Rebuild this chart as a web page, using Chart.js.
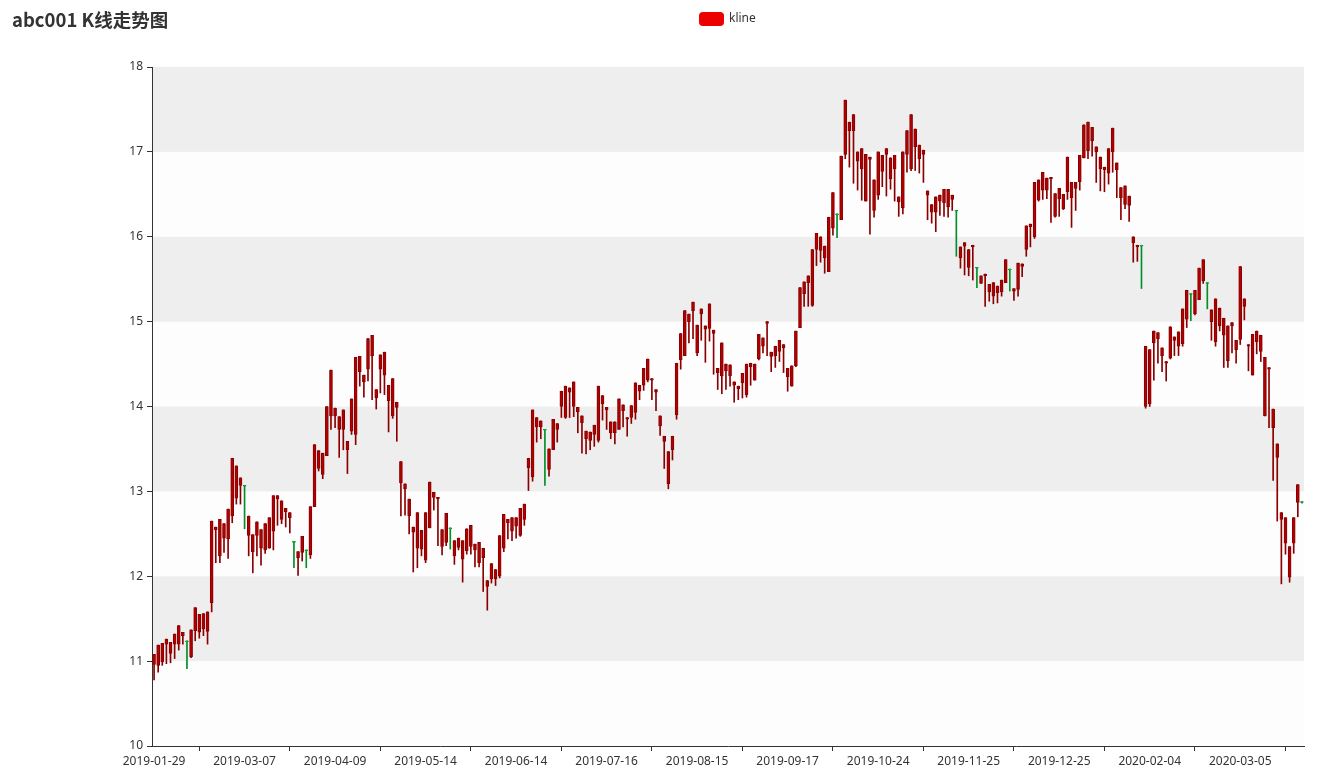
<!DOCTYPE html>
<html><head><meta charset="utf-8">
<script src="https://cdn.jsdelivr.net/npm/chart.js@4.4.1/dist/chart.umd.min.js"></script>
<style>html,body{margin:0;padding:0;background:#fff;}canvas{display:block;}</style>
</head><body>
<canvas id="c" width="1327" height="779"></canvas>
<script>
const titleText = 'abc001 K线走势图';
const seriesName = 'kline';
const dates = [
'2019-01-29','2019-01-30','2019-01-31',
'2019-02-01','2019-02-11','2019-02-12','2019-02-13','2019-02-14','2019-02-15','2019-02-18','2019-02-19','2019-02-20','2019-02-21','2019-02-22','2019-02-25','2019-02-26','2019-02-27','2019-02-28',
'2019-03-01','2019-03-04','2019-03-05','2019-03-06','2019-03-07','2019-03-08','2019-03-11','2019-03-12','2019-03-13','2019-03-14','2019-03-15','2019-03-18','2019-03-19','2019-03-20','2019-03-21','2019-03-22','2019-03-25','2019-03-26','2019-03-27','2019-03-28','2019-03-29',
'2019-04-01','2019-04-02','2019-04-03','2019-04-04','2019-04-08','2019-04-09','2019-04-10','2019-04-11','2019-04-12','2019-04-15','2019-04-16','2019-04-17','2019-04-18','2019-04-19','2019-04-22','2019-04-23','2019-04-24','2019-04-25','2019-04-26','2019-04-29','2019-04-30',
'2019-05-06','2019-05-07','2019-05-08','2019-05-09','2019-05-10','2019-05-13','2019-05-14','2019-05-15','2019-05-16','2019-05-17','2019-05-20','2019-05-21','2019-05-22','2019-05-23','2019-05-24','2019-05-27','2019-05-28','2019-05-29','2019-05-30','2019-05-31',
'2019-06-03','2019-06-04','2019-06-05','2019-06-06','2019-06-10','2019-06-11','2019-06-12','2019-06-13','2019-06-14','2019-06-17','2019-06-18','2019-06-19','2019-06-20','2019-06-21','2019-06-24','2019-06-25','2019-06-26','2019-06-27','2019-06-28',
'2019-07-01','2019-07-02','2019-07-03','2019-07-04','2019-07-05','2019-07-08','2019-07-09','2019-07-10','2019-07-11','2019-07-12','2019-07-15','2019-07-16','2019-07-17','2019-07-18','2019-07-19','2019-07-22','2019-07-23','2019-07-24','2019-07-25','2019-07-26','2019-07-29','2019-07-30','2019-07-31',
'2019-08-01','2019-08-02','2019-08-05','2019-08-06','2019-08-07','2019-08-08','2019-08-09','2019-08-12','2019-08-13','2019-08-14','2019-08-15','2019-08-16','2019-08-19','2019-08-20','2019-08-21','2019-08-22','2019-08-23','2019-08-26','2019-08-27','2019-08-28','2019-08-29','2019-08-30',
'2019-09-02','2019-09-03','2019-09-04','2019-09-05','2019-09-06','2019-09-09','2019-09-10','2019-09-11','2019-09-12','2019-09-16','2019-09-17','2019-09-18','2019-09-19','2019-09-20','2019-09-23','2019-09-24','2019-09-25','2019-09-26','2019-09-27','2019-09-30',
'2019-10-08','2019-10-09','2019-10-10','2019-10-11','2019-10-14','2019-10-15','2019-10-16','2019-10-17','2019-10-18','2019-10-21','2019-10-22','2019-10-23','2019-10-24','2019-10-25','2019-10-28','2019-10-29','2019-10-30','2019-10-31',
'2019-11-01','2019-11-04','2019-11-05','2019-11-06','2019-11-07','2019-11-08','2019-11-11','2019-11-12','2019-11-13','2019-11-14','2019-11-15','2019-11-18','2019-11-19','2019-11-20','2019-11-21','2019-11-22','2019-11-25','2019-11-26','2019-11-27','2019-11-28','2019-11-29',
'2019-12-02','2019-12-03','2019-12-04','2019-12-05','2019-12-06','2019-12-09','2019-12-10','2019-12-11','2019-12-12','2019-12-13','2019-12-16','2019-12-17','2019-12-18','2019-12-19','2019-12-20','2019-12-23','2019-12-24','2019-12-25','2019-12-26','2019-12-27','2019-12-30','2019-12-31',
'2020-01-02','2020-01-03','2020-01-06','2020-01-07','2020-01-08','2020-01-09','2020-01-10','2020-01-13','2020-01-14','2020-01-15','2020-01-16','2020-01-17','2020-01-20','2020-01-21','2020-01-22','2020-01-23',
'2020-02-03','2020-02-04','2020-02-05','2020-02-06','2020-02-07','2020-02-10','2020-02-11','2020-02-12','2020-02-13','2020-02-14','2020-02-17','2020-02-18','2020-02-19','2020-02-20','2020-02-21','2020-02-24','2020-02-25','2020-02-26','2020-02-27','2020-02-28',
'2020-03-02','2020-03-03','2020-03-04','2020-03-05','2020-03-06','2020-03-09','2020-03-10','2020-03-11','2020-03-12','2020-03-13','2020-03-16','2020-03-17','2020-03-18','2020-03-19','2020-03-20','2020-03-23','2020-03-24','2020-03-25','2020-03-26'
];
const opens = [
10.96,10.95,10.99,11.20,11.09,11.20,11.20,11.30,11.24,11.05,
11.36,11.34,11.38,11.35,11.69,12.55,12.24,12.45,12.44,12.71,
12.92,13.07,13.07,12.48,12.29,12.48,12.33,12.31,12.33,12.53,
12.91,12.67,12.76,12.69,12.41,12.22,12.28,12.31,12.25,12.82,
13.27,13.20,13.42,13.89,13.89,13.73,13.73,13.49,13.71,13.67,
14.41,14.29,14.44,14.60,14.10,14.44,14.37,14.07,13.89,13.99,
13.10,13.03,12.71,12.52,12.33,12.32,12.19,12.57,12.93,12.91,
12.35,12.40,12.57,12.24,12.34,12.20,12.30,12.35,12.31,12.16,
12.22,11.88,11.97,11.97,12.00,12.33,12.63,12.53,12.59,12.48,
12.67,13.28,13.17,13.76,13.76,13.73,13.26,13.49,13.73,14.00,
13.87,14.17,14.00,13.94,13.81,13.62,13.60,13.67,13.60,14.03,
13.96,13.69,13.69,13.73,13.95,13.85,13.87,13.93,14.18,14.25,
14.31,14.31,14.17,13.77,13.59,13.09,13.49,13.90,14.55,14.60,
15.00,15.13,14.63,15.09,14.91,14.92,14.86,14.40,14.36,14.42,
14.36,14.25,14.21,14.28,14.14,14.47,14.31,14.56,14.71,14.98,
14.59,14.60,14.65,14.69,14.35,14.24,14.48,14.93,15.33,15.46,
15.19,15.85,15.84,15.75,15.59,16.10,16.27,16.20,16.97,17.25,
17.25,16.89,16.80,16.42,16.91,16.31,16.49,16.77,16.97,16.68,
16.80,16.41,16.34,16.97,16.80,17.06,16.92,16.97,16.49,16.29,
16.29,16.42,16.40,16.35,16.44,16.31,15.75,15.89,15.64,15.88,
15.64,15.45,15.54,15.35,15.30,15.34,15.35,15.46,15.62,15.36,
15.38,15.65,15.85,16.12,16.00,16.43,16.55,16.55,16.68,16.24,
16.45,16.33,16.53,16.46,16.57,16.65,16.93,17.01,17.13,17.00,
16.80,16.79,16.75,17.00,16.79,16.46,16.38,16.37,15.93,15.88,
15.90,14.00,14.03,14.75,14.80,14.60,14.51,14.57,14.78,14.71,
14.74,15.03,15.33,15.09,15.26,15.48,15.46,15.00,14.76,14.95,
14.84,14.54,14.95,14.67,14.79,15.18,14.71,14.37,14.76,14.65,
13.89,14.44,13.75,13.40,12.67,12.39,11.99,12.39,12.87,12.88
];
const closes = [
11.08,11.19,11.21,11.26,11.22,11.32,11.42,11.34,11.23,11.37,
11.63,11.55,11.56,11.58,12.65,12.58,12.67,12.62,12.79,13.39,
13.30,13.16,13.06,12.71,12.49,12.64,12.55,12.62,12.69,12.95,
12.95,12.89,12.80,12.75,12.40,12.29,12.47,12.30,12.82,13.55,
13.48,13.45,14.00,14.43,13.98,13.88,13.96,13.59,14.09,14.58,
14.59,14.37,14.80,14.84,14.20,14.61,14.64,14.25,14.33,14.05,
13.35,13.09,12.91,12.58,12.75,12.54,12.75,13.11,12.99,12.93,
12.55,12.74,12.56,12.42,12.45,12.42,12.56,12.60,12.38,12.40,
12.33,11.95,12.15,12.08,12.48,12.73,12.67,12.69,12.69,12.80,
12.85,13.39,13.96,13.87,13.83,13.72,13.50,13.85,13.80,14.18,
14.24,14.22,14.29,13.99,13.89,13.71,13.70,13.78,14.24,14.13,
13.99,13.82,13.82,14.09,14.02,13.87,14.01,14.28,14.25,14.45,
14.56,14.33,14.20,13.89,13.65,13.47,13.65,14.51,14.86,15.13,
15.09,15.23,14.96,15.15,14.95,15.21,14.90,14.45,14.75,14.50,
14.49,14.29,14.24,14.39,14.50,14.51,14.50,14.85,14.81,15.00,
14.64,14.71,14.78,14.73,14.45,14.48,14.89,15.40,15.47,15.54,
15.85,16.04,16.00,15.89,16.23,16.52,16.26,16.95,17.61,17.35,
17.44,17.00,17.04,16.97,16.94,16.67,17.00,16.96,17.04,16.93,
16.96,16.47,17.00,17.25,17.44,17.27,17.08,17.02,16.54,16.38,
16.47,16.49,16.56,16.56,16.49,16.30,15.88,15.93,15.85,15.90,
15.63,15.54,15.56,15.44,15.46,15.42,15.49,15.73,15.61,15.39,
15.69,15.68,16.13,16.15,16.64,16.67,16.76,16.69,16.70,16.51,
16.57,16.50,16.94,16.64,16.64,16.96,17.32,17.35,17.29,17.06,
16.94,16.82,17.04,17.28,16.87,16.58,16.60,16.48,16.00,15.90,
15.89,14.71,14.67,14.89,14.87,14.69,14.53,14.94,14.82,14.88,
15.15,15.37,15.32,15.37,15.63,15.73,15.45,15.14,15.27,15.16,
15.04,14.95,14.99,14.78,15.65,15.27,14.73,14.85,14.89,14.84,
14.58,14.46,13.97,13.56,12.75,12.69,12.35,12.69,13.08,12.87
];
const lows = [
10.78,10.87,10.95,10.97,10.98,11.03,11.13,11.20,10.91,11.04,
11.24,11.27,11.30,11.20,11.58,12.16,12.16,12.28,12.21,12.63,
12.85,12.85,12.56,12.24,12.04,12.24,12.13,12.27,12.33,12.31,
12.60,12.62,12.58,12.51,12.10,12.01,12.18,12.10,12.21,12.82,
13.24,13.15,13.42,13.73,13.75,13.40,13.49,13.21,13.67,13.55,
14.24,14.11,14.30,14.08,13.97,14.16,14.14,13.70,13.86,13.59,
12.71,12.72,12.50,12.05,12.10,12.24,12.16,12.57,12.78,12.36,
12.25,12.36,12.32,12.14,12.31,11.93,12.26,12.26,12.11,12.11,
11.82,11.60,11.92,11.89,11.98,12.29,12.44,12.42,12.45,12.47,
12.60,13.01,13.12,13.58,13.62,13.07,13.18,13.49,13.58,13.87,
13.86,13.87,13.88,13.69,13.45,13.44,13.49,13.53,13.58,13.84,
13.73,13.62,13.56,13.73,13.76,13.65,13.80,13.85,14.08,14.19,
14.29,14.08,13.95,13.66,13.27,13.03,13.37,13.85,14.44,14.60,
14.75,14.80,14.60,14.78,14.52,14.77,14.38,14.20,14.15,14.20,
14.24,14.05,14.08,14.10,14.11,14.25,14.31,14.55,14.63,14.60,
14.41,14.46,14.53,14.40,14.18,14.24,14.47,14.93,15.18,15.18,
15.18,15.66,15.70,15.57,15.59,16.02,15.99,16.20,16.92,16.82,
16.63,16.55,16.43,16.42,16.03,16.23,16.44,16.59,16.48,16.56,
16.42,16.24,16.27,16.76,16.78,16.78,16.75,16.64,16.20,16.16,
16.06,16.25,16.24,16.23,16.31,15.77,15.63,15.55,15.54,15.49,
15.40,15.45,15.18,15.24,15.21,15.22,15.30,15.46,15.36,15.25,
15.30,15.53,15.77,15.88,15.98,16.42,16.44,16.45,16.17,16.23,
16.24,16.32,16.44,16.11,16.31,16.55,16.93,16.92,16.95,16.64,
16.54,16.53,16.62,16.76,16.46,16.20,16.33,16.18,15.70,15.71,
15.39,13.98,14.00,14.31,14.51,14.41,14.30,14.56,14.60,14.60,
14.71,14.93,15.01,15.08,15.26,15.45,15.15,14.78,14.71,14.89,
14.46,14.46,14.63,14.51,14.73,15.02,14.42,14.37,14.62,14.53,
13.89,13.75,13.13,12.65,11.91,12.26,11.93,12.27,12.70,12.86
];
const highs = [
11.08,11.19,11.21,11.26,11.22,11.32,11.42,11.34,11.24,11.37,
11.63,11.55,11.56,11.58,12.65,12.58,12.67,12.62,12.79,13.39,
13.30,13.16,13.07,12.71,12.49,12.64,12.55,12.62,12.69,12.95,
12.95,12.89,12.80,12.75,12.41,12.29,12.47,12.31,12.82,13.55,
13.48,13.45,14.00,14.43,13.98,13.88,13.96,13.59,14.09,14.58,
14.59,14.37,14.80,14.84,14.20,14.61,14.64,14.25,14.33,14.05,
13.35,13.09,12.91,12.58,12.75,12.54,12.75,13.11,12.99,12.93,
12.55,12.74,12.57,12.42,12.45,12.42,12.56,12.60,12.38,12.40,
12.33,11.95,12.15,12.08,12.48,12.73,12.67,12.69,12.69,12.80,
12.85,13.39,13.96,13.87,13.83,13.73,13.50,13.85,13.80,14.18,
14.24,14.22,14.29,13.99,13.89,13.71,13.70,13.78,14.24,14.13,
13.99,13.82,13.82,14.09,14.02,13.87,14.01,14.28,14.25,14.45,
14.56,14.33,14.20,13.89,13.65,13.47,13.65,14.51,14.86,15.13,
15.09,15.23,14.96,15.15,14.95,15.21,14.90,14.45,14.75,14.50,
14.49,14.29,14.24,14.39,14.50,14.51,14.50,14.85,14.81,15.00,
14.64,14.71,14.78,14.73,14.45,14.48,14.89,15.40,15.47,15.54,
15.85,16.04,16.00,15.89,16.23,16.52,16.27,16.95,17.61,17.35,
17.44,17.00,17.04,16.97,16.94,16.67,17.00,16.96,17.04,16.93,
16.96,16.47,17.00,17.25,17.44,17.27,17.08,17.02,16.54,16.38,
16.47,16.49,16.56,16.56,16.49,16.31,15.88,15.93,15.85,15.90,
15.64,15.54,15.56,15.44,15.46,15.42,15.49,15.73,15.62,15.39,
15.69,15.68,16.13,16.15,16.64,16.67,16.76,16.69,16.70,16.51,
16.57,16.50,16.94,16.64,16.64,16.96,17.32,17.35,17.29,17.06,
16.94,16.82,17.04,17.28,16.87,16.58,16.60,16.48,16.00,15.90,
15.90,14.71,14.67,14.89,14.87,14.69,14.53,14.94,14.82,14.88,
15.15,15.37,15.33,15.37,15.63,15.73,15.46,15.14,15.27,15.16,
15.04,14.95,14.99,14.78,15.65,15.27,14.73,14.85,14.89,14.84,
14.58,14.46,13.97,13.56,12.75,12.69,12.35,12.69,13.08,12.88
];
const yMin = 10, yMax = 18, yStep = 1;
const labelInterval = 22;   // one date label every 22 trading days
const tickMarkOffset = 11;  // axis tick marks sit between labels

const legendColor = '#ec0000';
const upFill = '#b00000', downFill = '#00da3c', upBorder = '#8A0000', downBorder = '#008F28';
const isUp = opens.map((o, i) => closes[i] > o);

const bandsPlugin = {
  id: 'bands',
  beforeDraw(chart) {
    const {ctx, chartArea: a, scales: {y}} = chart;
    ctx.save();
    const t = y.ticks.map(tk => tk.value).sort((p, q) => p - q);
    for (let k = 0; k < t.length - 1; k++) {
      const top = y.getPixelForValue(t[k + 1]), bot = y.getPixelForValue(t[k]);
      ctx.fillStyle = k % 2 === 0 ? 'rgba(250,250,250,0.3)' : 'rgba(200,200,200,0.3)';
      ctx.fillRect(a.left, top, a.right - a.left, bot - top);
    }
    ctx.restore();
  }
};
const headerPlugin = {
  id: 'header',
  afterDraw(chart) {
    const ctx = chart.ctx;
    ctx.save();
    ctx.fillStyle = '#333';
    ctx.textBaseline = 'middle';
    ctx.font = 'bold 18.5px "Noto Sans CJK SC", "Noto Sans", sans-serif';
    ctx.fillText(titleText, 12, 20);
    const lx = 699, ly = 12, lw = 25, lh = 14;
    ctx.fillStyle = legendColor;
    ctx.beginPath();
    ctx.roundRect(lx, ly, lw, lh, 4);
    ctx.fill();
    ctx.fillStyle = '#333';
    ctx.font = '12px "Noto Sans", sans-serif';
    ctx.fillText(seriesName, lx + lw + 5, ly + lh / 2);
    ctx.restore();
  }
};

new Chart(document.getElementById('c'), {
  type: 'bar',
  data: {
    labels: dates,
    datasets: [
      {
        label: seriesName,
        data: opens.map((o, i) => [o, closes[i]]),
        backgroundColor: isUp.map(u => u ? upFill : downFill),
        borderColor: isUp.map(u => u ? upBorder : downBorder),
        borderWidth: 1,
        borderSkipped: false,
        barThickness: 3,
        grouped: false,
        order: 1
      },
      {
        label: 'wick',
        data: lows.map((l, i) => [l, highs[i]]),
        backgroundColor: isUp.map(u => u ? upBorder : downBorder),
        borderWidth: 0,
        barThickness: 1,
        grouped: false,
        order: 2
      }
    ]
  },
  options: {
    responsive: false,
    devicePixelRatio: 1,
    animation: false,
    events: [],
    layout: {padding: {top: 67, right: 23, left: 0, bottom: 0}},
    plugins: {legend: {display: false}, title: {display: false}, tooltip: {enabled: false}},
    scales: {
      x: {
        type: 'category',
        offset: true,
        grid: {
          offset: false,
          drawOnChartArea: false,
          drawTicks: true,
          tickLength: 5,
          color: ctx => (ctx.index % labelInterval === tickMarkOffset ? '#333' : 'rgba(0,0,0,0)')
        },
        border: {display: true, color: '#333', width: 1},
        ticks: {
          autoSkip: false,
          maxRotation: 0,
          minRotation: 0,
          padding: 3,
          color: '#333',
          font: {size: 12, family: '"Noto Sans", sans-serif'},
          callback: (v, i) => (i % labelInterval === 0 ? dates[i] : '')
        },
        afterFit: s => { s.height = 33; }
      },
      y: {
        type: 'linear',
        min: yMin,
        max: yMax,
        grid: {drawOnChartArea: false, drawTicks: true, tickLength: 5, color: '#333'},
        border: {display: true, color: '#333', width: 1},
        ticks: {
          stepSize: yStep,
          padding: 4,
          color: '#333',
          font: {size: 12, family: '"Noto Sans", sans-serif'}
        },
        afterFit: s => { s.width = 152; }
      }
    }
  },
  plugins: [bandsPlugin, headerPlugin]
});
</script>
</body></html>
